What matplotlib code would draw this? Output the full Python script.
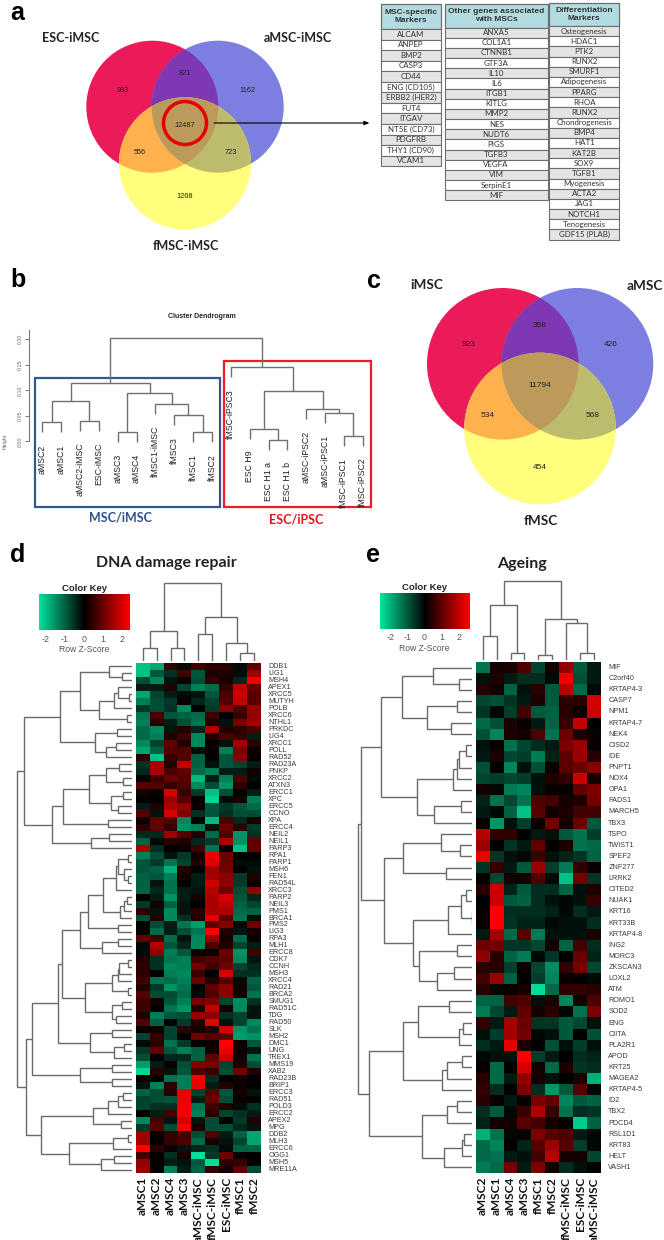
import numpy as np
import matplotlib
matplotlib.use("Agg")
import matplotlib.pyplot as plt
from matplotlib.colors import LinearSegmentedColormap
from matplotlib.patches import Circle, Polygon, Rectangle

W, H = 664, 1240
SANS = ["Liberation Sans", "DejaVu Sans"]
HUM = ["Lato", "DejaVu Sans"]

# ---------- data ----------
VENN_A = [993, 821, 1162, 12487, 556, 723, 1268]
VENN_C = [923, 398, 426, 11794, 534, 568, 454]
TABLE1_HEAD = "MSC-specific\nMarkers"
TABLE1 = ["ALCAM", "ANPEP", "BMP2", "CASP3", "CD44", "ENG (CD105)", "ERBB2 (HER2)", "FUT4", "ITGAV",
          "NT5E (CD73)", "PDGFRB", "THY1 (CD90)", "VCAM1"]
TABLE2_HEAD = "Other genes associated\nwith MSCs"
TABLE2 = ["ANXA5", "COL1A1", "CTNNB1", "GTF3A", "IL10", "IL6", "ITGB1", "KITLG", "MMP2", "NES", "NUDT6",
          "PIGS", "TGFB3", "VEGFA", "VIM", "SerpinE1", "MIF"]
TABLE3_HEAD = "Differentiation\nMarkers"
TABLE3 = ["Osteogenesis", "HDAC1", "PTK2", "RUNX2", "SMURF1", "Adipogenesis", "PPARG", "RHOA", "RUNX2",
          "Chondrogenesis", "BMP4", "HAT1", "KAT2B", "SOX9", "TGFB1", "Myogenesis", "ACTA2", "JAG1",
          "NOTCH1", "Tenogenesis", "GDF15 (PLAB)"]

B_LABELS = ["aMSC2", "aMSC1", "aMSC2-iMSC", "ESC-iMSC", "aMSC3", "aMSC4", "fMSC1-iMSC", "fMSC3", "fMSC1",
            "fMSC2", "fMSC-iPSC3", "ESC H9", "ESC H1 a", "ESC H1 b", "aMSC-iPSC2", "aMSC-iPSC1",
            "fMSC-iPSC1", "fMSC-iPSC2"]
B_TREE = (0.202,
          (0.1137,
           (0.080, (0.037, 0, 1), (0.0405, 2, 3)),
           (0.095, (0.019, 4, 5), (0.074, 6, (0.051, 7, (0.018, 8, 9))))),
          (0.146, 10,
           (0.098, (0.025, 11, (0.002, 12, 13)),
            (0.063, 14, (0.055, 15, (0.011, 16, 17))))))
B_YTICKS = [0.00, 0.05, 0.10, 0.15, 0.20]

D_COLS = ["aMSC1", "aMSC2", "aMSC4", "aMSC3", "aMSC-iMSC", "fMSC-iMSC", "ESC-iMSC", "fMSC1", "fMSC2"]
D_GENES = ["DDB1", "LIG1", "MSH4", "APEX1", "XRCC5", "MUTYH", "POLB", "XRCC6", "NTHL1", "PRKDC", "LIG4", "XRCC1",
           "POLL", "RAD52", "RAD23A", "PNKP", "XRCC2", "ATXN3", "ERCC1", "XPC", "ERCC5", "CCNO", "XPA", "ERCC4",
           "NEIL2", "NEIL1", "PARP3", "RPA1", "PARP1", "MSH6", "FEN1", "RAD54L", "XRCC3", "PARP2", "NEIL3", "PMS1",
           "BRCA1", "PMS2", "LIG3", "RPA3", "MLH1", "ERCC8", "CDK7", "CCNH", "MSH3", "XRCC4", "RAD21", "BRCA2",
           "SMUG1", "RAD51C", "TDG", "RAD50", "SLK", "MSH2", "DMC1", "UNG", "TREX1", "MMS19", "XAB2", "RAD23B",
           "BRIP1", "ERCC3", "RAD51", "POLD3", "ERCC2", "APEX2", "MPG", "DDB2", "MLH3", "ERCC6", "OGG1", "MSH5",
           "MRE11A"]
D_Z = [
 [-2,-1.7,.5,-.1,.6,.4,.4,-.1,.9],[-2,-.9,-.5,.6,-.9,.3,.3,-.1,1.5],[-.8,-1.4,-.2,.1,-.8,.5,.2,-.4,2.3],
 [-.3,-.3,.3,-.7,-1.3,-1.1,.5,1.8,1],[-1.7,-.7,-.3,-.1,-.2,-.9,.7,1.9,.8],[-1.3,-.8,-.6,.1,-.4,-.7,.8,1.8,.8],
 [-.6,-.8,-.5,-1.4,0,-.6,1.3,.7,1.4],[-1.2,.7,-.9,-1,-1.1,.6,0,.5,1.4],[-1.3,.4,-.3,-.8,-1.2,.3,-.2,1.1,1.5],
 [-1.1,-1.4,-.2,.3,-.4,1.6,.3,.4,.7],[-1.1,-1.3,.3,.6,-1.4,.3,.7,.5,-.3],[-1.4,-.7,.9,.3,-1.4,.1,-.2,1.5,.4],
 [-1.7,-1,.8,.8,-.1,.1,-1.3,1.2,.1],[.4,-2,.5,.8,-1,0,-.9,1.3,.1],[-.5,1.6,.3,1.8,-1,-.2,-.9,-.7,-.3],
 [-.4,1.6,.7,.9,-1.1,-1.3,-.3,-.3,.2],[0,.6,1,.8,-1.9,-.3,-1.3,.7,-.1],[.8,.8,.5,.7,-1.4,-.8,-1.5,.4,0],
 [.2,.1,2,.5,-.6,-2,-.8,0,-.3],[0,0,1.5,.8,0,-2.2,-.1,.2,-1.3],[-.3,.3,1.6,1.4,.1,-.9,-.6,-.9,-1.1],
 [.8,-.2,2,1.2,-.5,-.9,-.5,-.8,-.8],[.2,.9,.8,-1.4,0,-1.9,.7,-.4,.2],[.4,.9,.5,-1.5,-1.3,-.2,1,.4,-.6],
 [-.4,-.4,1.5,.8,.3,-1.1,.8,-1.5,-.5],[-1,-.1,.4,.3,-.4,-.6,1.6,-1.5,.9],[1.6,-.5,0,.1,.6,-1.2,0,-2,.9],
 [-1.3,-.8,-.2,-.6,.2,2.2,1,0,0],[-.9,-.6,-1.2,-.7,.3,2.1,1,-.1,-.1],[-.9,-1,-1.8,.3,0,1.5,1.1,0,-.2],
 [-1,-.9,-1.3,.2,-.3,1.5,1.3,-.6,.3],[-1,-.2,-1.2,0,-.3,1.9,1.3,-.6,.1],[-1,-.4,-1.2,-.3,-.2,1.7,1,-.8,1.4],
 [0,-.3,-1.5,-.3,.2,1.6,2,-.9,-.4],[-.6,.2,-1,-.2,0,1.6,1.8,-1,-.7],[.4,-.2,-1.4,-.2,.4,1.6,1.6,-1.1,-1],
 [-.8,.3,-1.4,-.5,.3,2.1,.8,-1.2,-.1],[0,-.8,-.3,-1.2,-1.6,.9,1.2,-.1,1],[.1,-1.1,-.3,-.8,-1.2,2.4,.3,-.2,.2],
 [.9,.6,-1.1,-.2,-1.4,1.4,.2,-1.1,.1],[-.1,1.7,-.9,-.4,-1.4,.7,.3,-.7,-.3],[-.1,1.3,-1.3,-.9,.1,.1,1,-1.5,.6],
 [.3,-.5,-1.2,-1.3,.6,.8,.9,-1.4,-.2],[.4,-.5,-1.4,-1.3,1.1,.6,1,-.7,-.4],[.4,0,-1.3,-1.4,.5,0,2,-.5,-.5],
 [.6,-1.2,-1.1,-1.3,1,.3,.8,-.1,-1],[.3,-.6,-1.5,-1.2,0,.9,1.3,.2,-.9],[.8,-.8,-.8,-1.1,-.1,.8,1.3,.2,-1.2],
 [.6,.2,-.9,-1.3,1.1,1.2,-.7,-1.4,-.5],[.6,0,-1.2,-1.5,.3,1.8,.2,-1.4,-.2],[.3,-1.3,-.9,-.8,1.4,1.3,-.5,-.7,-.2],
 [.8,-1,0,-.6,.3,2.1,-.2,-.7,-1.4],[0,.1,-.7,.4,.2,.3,2,-1.5,-1.2],[-.7,.5,-.7,0,1,.8,.9,-1.6,-1.5],
 [-.1,.4,-1.2,-.6,0,.1,2.4,.1,-.9],[-.6,.9,-.9,-1.3,-1,.2,2.2,.1,-.2],[-.8,0,-.4,-.4,-1,.9,1.9,.2,-1.2],
 [-1.6,-.3,.1,-.8,1.2,1.1,-.7,.3,-.8],[-2.2,.4,-.2,-.9,.7,.5,-.8,1,.3],[.1,0,-1.2,-1.3,2.3,-.5,0,.1,0],
 [-.2,-1.3,.4,-1.3,2.2,-.3,.3,.1,0],[-1,-.8,.4,2.2,-.7,.8,-.9,.2,-.2],[-.7,-.8,-.9,2.2,-.3,1,-.8,.1,0],
 [-.7,-.5,-.5,2.3,-1.2,.6,.3,-.1,-.5],[0,-.3,.6,2.3,-1.3,.4,-.7,-.5,-.3],[-1.4,.7,-.2,2,-.2,-.8,0,-.6,.3],
 [-.6,.8,-.8,2.3,.2,-.8,-.8,-.4,-.2],[1.5,0,.5,.6,-.8,.8,-.3,-1,-1.7],[1.5,0,.5,.7,-1.1,.2,-.2,-.7,-1.7],
 [2.4,.4,.1,-.2,-.4,-.5,-.1,-1,-1],[.6,0,-.5,.2,-2.3,-.6,1,.1,0],[1.4,0,-.3,-.2,-.9,-2.3,.4,.5,0],
 [1.4,0,-1.3,-.3,-1,.5,.2,.9,-.8]]
D_COL_TREE = (233, (90, (40, 0, 1), (38, 2, 3)),
              (131, (80, 4, 5), (53, 6, (23, 7, 8))))
D_ROW_TREE = (345,
  (324,
   (217,
    (156, (69, 0, (32, 1, 2)), (100, (55, (42, 3, (9, 4, 5)), 6), (17, 7, 8))),
    (112, (47, 9, 10), (80, (49, 11, 12), 13))),
   (242,
    (207, (130, (80, (40, 14, 15), (27, 16, 17)), (64, (27, 18, 19), (42, 20, 21))), (72, 22, 23)),
    (125, (69, 24, 25), 26))),
  (319,
   (302,
    (224,
     (211,
      (156,
       (134, (87, (50, (42, (12, 27, 28), (24, 29, (12, 30, 31))), 32), (37, (25, (15, 33, 34), 35), 36)), (42, 37, 38)),
       (90, (42, 39, 40), 41)),
      (143, (60, (44, (39, (12, 42, 43), 44), 45), (14, 46, 47)), (60, (30, 48, 49), (50, 50, 51)))),
     (128, (62, 52, 53), (54, (24, 54, 55), 56))),
    (158, (62, 57, 58), (62, 59, 60))),
   (273,
    (117, (74, (42, (29, 61, 62), 63), 64), (35, 65, 66)),
    (189, (59, (12, 67, 68), 69), (95, (54, 70, 71), 72)))))

E_COLS = ["aMSC2", "aMSC1", "aMSC4", "aMSC3", "fMSC1", "fMSC2", "fMSC-iMSC", "ESC-iMSC", "aMSC-iMSC"]
E_GENES = ["MIF", "C2orf40", "KRTAP4-3", "CASP7", "NPM1", "KRTAP4-7", "NEK4", "CISD2", "IDE", "PNPT1", "NOX4", "OPA1",
           "FADS1", "MARCH5", "TBX3", "TSPO", "TWIST1", "SPEF2", "ZNF277", "LRRK2", "CITED2", "NUAK1", "KRT16", "KRT33B",
           "KRTAP4-8", "ING2", "MORC3", "ZKSCAN3", "LOXL2", "ATM", "ROMO1", "SOD2", "ENG", "CIITA", "PLA2R1", "APOD",
           "KRT25", "MAGEA2", "KRTAP4-5", "ID2", "TBX2", "PDCD4", "RSL1D1", "KRT83", "HELT", "VASH1"]
E_Z = [
 [-1.3,.2,.3,.8,-.8,.2,1.5,-1,-.3],[-.2,.3,-.3,-.5,-.5,-.1,2.5,-.9,-.3],[.4,.2,-1.1,-.2,.4,-1,1.9,-1.2,-.1],
 [-.8,-.9,-.6,-.3,.3,-1,.5,.4,2.2],[-.6,-.1,-.7,.7,-1,-1.1,.4,.1,2.1],[-1.2,-.9,.3,.1,-.3,-1.1,.6,2,0],
 [-.9,-1.5,.3,.2,.8,-1.3,1.1,.3,.1],[-.2,.1,-1.3,-.8,-.5,-.3,1.3,1.6,.1],[-.3,.3,-.8,-.7,-1.4,-.4,1,1.6,.4],
 [-.9,0,-1.5,-.2,-.9,.1,.9,1.1,1.4],[-.8,-.7,-.8,-.7,-.2,.3,.5,2.1,.2],[.2,-.1,-1.4,-1.5,-.2,.1,.1,1,1.3],
 [-.4,-1.3,-.8,-1.3,.8,.7,.2,.3,1.2],[-.3,-.1,-1.1,-2.2,.9,.2,.3,.7,.7],[.1,-1.7,-.2,-.7,.1,1.2,.2,1.1,-1],
 [1.9,.5,.5,0,-.3,-.2,-1,-1.3,-.7],[1.6,0,-.6,-.3,1,0,.3,-1.3,-1.2],[2.4,-.6,-.2,-.1,.6,-.2,-.4,-.6,-1.1],
 [-.6,.5,-.3,-1,1.6,-.7,-1.4,.5,.1],[0,-.8,.2,.2,.8,-.1,-2.2,1.2,-.6],[.4,2.1,-.4,-1,-.5,-.5,-1.1,-.2,.3],
 [0,2.1,-1,-1.1,-.5,-.2,-.1,-.2,.6],[.1,2.6,-.5,-.5,-.5,-.4,-.1,-.5,-.3],[.1,2.6,-.6,-.4,-.4,-.1,-.2,-.2,-.5],
 [-.3,1.7,-1.2,.9,-1.4,-.2,-.2,-.2,.3],[1.1,1.2,-.6,-.6,-.8,.2,-1.1,.7,-.5],[1.5,.4,-1.1,-1.4,-.1,-.6,0,1.1,-.4],
 [.4,.4,-.7,.1,-.8,-1.6,.5,1.2,-.8],[.7,1.6,-1.1,0,-.7,-1.5,.1,0,-.1],[.4,-.1,.1,.2,-2.5,-1.2,.5,.5,.4],
 [-1.1,-1.1,.7,.8,-.2,.3,-1.5,.2,.8],[-1.4,-.8,-.3,1,.2,.4,-.1,-1.3,1.3],[.5,-.3,1.7,1.1,-.6,-.6,-1,-.8,-.2],
 [-.2,-.7,1.7,1.2,-.1,-.2,-1,0,-.9],[-.5,-.3,2.4,.3,0,-.9,-.2,-.7,-.2],[-.1,-.2,-.2,2.6,-.7,-.3,0,-.5,-.4],
 [.1,-1.2,0,2.2,.2,-1.2,.3,-.6,-.5],[.4,-1.2,-.3,1.5,.2,-.2,0,.3,-2],[.5,-.5,0,1.3,-.5,-1.7,-1,.9,-.1],
 [.4,.1,-.3,.1,1.3,1,-1.5,-1,-1.1],[-.5,-1,-.1,.6,1.8,.6,-1.3,-.5,-.6],[-.4,.2,.2,.9,.7,.2,.1,-2.3,-1.1],
 [-2,-1.3,-.1,.1,1.3,.9,.8,-.3,-.1],[-1.2,-1.5,0,-.4,.9,1.6,.9,-.7,-.1],[-1.2,-1.3,-.3,-.2,.7,1.9,.2,.2,-.8],
 [-1.4,-1.2,1.2,-.3,1.3,.2,-.5,-.2,0]]
E_COL_TREE = (236, (166, (71, 0, 1), (20, 2, 3)),
              (124, (14, 4, 5), (111, 6, (22, 7, 8))))
E_ROW_TREE = (344,
  (335,
   (275,
    (212, (117, 0, (39, 1, 2)), (137, (46, 3, 4), (64, 5, 6))),
    (167, (57, (45, (39, (19, 7, 8), 9), 10), 11), (114, (34, 12, 13), 14))),
   (265,
    (207, (95, 15, (37, 16, 17)), (79, 18, 19)),
    (179, (74, (35, (19, 20, 21), (2, 22, 23)), 24), (159, (46, 25, 26), (105, (54, 27, 28), 29))))),
  (309,
   (209, (164, (70, 30, 31), (39, (29, 32, 33), 34)), (90, (75, (32, 35, 36), 37), 38)),
   (151, (77, (46, 39, 40), 41), (85, (32, (25, 42, 43), 44), 45))))

# ---------- helpers ----------
plt.rcParams["font.family"] = SANS
fig = plt.figure(figsize=(W / 100, H / 100), dpi=100, facecolor="white")


def px_axes(x0, y0, x1, y1, **kw):
    ax = fig.add_axes([x0 / W, 1 - y1 / H, (x1 - x0) / W, (y1 - y0) / H], **kw)
    ax.patch.set_alpha(0)
    return ax


page = px_axes(0, 0, W, H)
page.set_xlim(0, W)
page.set_ylim(H, 0)
page.axis("off")

LC = "#6a6a6a"


def draw_tree(ax, node, vertical=True, hang=None, color=LC, lw=1.0):
    if isinstance(node, int):
        return float(node), None
    h, a, b = node
    pa, ha = draw_tree(ax, a, vertical, hang, color, lw)
    pb, hb = draw_tree(ax, b, vertical, hang, color, lw)
    ha = ha if ha is not None else (h - hang if hang is not None else 0)
    hb = hb if hb is not None else (h - hang if hang is not None else 0)
    xs, ys = [pa, pa, pb, pb], [ha, h, h, hb]
    if vertical:
        ax.plot(xs, ys, color=color, lw=lw, solid_joinstyle="miter", solid_capstyle="butt")
    else:
        ax.plot(ys, xs, color=color, lw=lw, solid_joinstyle="miter", solid_capstyle="butt")
    return (pa + pb) / 2, h


def leaf_ends(node, hang, out):
    if isinstance(node, int):
        return
    h, a, b = node
    for c in (a, b):
        if isinstance(c, int):
            out[c] = h - hang
        else:
            leaf_ends(c, hang, out)


def venn(c_red, c_blue, c_yel, r, counts, num_pos, fs):
    red = Circle(c_red, r, fc="#EB1B5A", ec="none")
    blue = Circle(c_blue, r, fc="#7D7FE0", ec="none")
    yel = Circle(c_yel, r, fc="#FFFF7D", ec="none")
    for p in (red, blue, yel):
        page.add_patch(p)
    for centre, col, clip in ((c_blue, "#7E38B4", red), (c_yel, "#FFB14E", red), (c_yel, "#BCBC6C", blue)):
        p = Circle(centre, r, fc=col, ec="none")
        page.add_patch(p)
        p.set_clip_path(clip)
    d = c_blue[0] - c_red[0]
    phi = np.arccos(d / (2 * r))
    t = np.linspace(-phi, phi, 120)
    arc1 = np.c_[c_red[0] + r * np.cos(t), c_red[1] + r * np.sin(t)]
    t2 = np.linspace(np.pi - phi, np.pi + phi, 120)
    arc2 = np.c_[c_blue[0] + r * np.cos(t2), c_blue[1] + r * np.sin(t2)]
    lens = Polygon(np.r_[arc1, arc2], closed=True, fc="#BB9A5C", ec="none")
    page.add_patch(lens)
    lens.set_clip_path(yel)
    for n, (x, y) in zip(counts, num_pos):
        page.text(x, y, str(n), ha="center", va="center", fontsize=fs, color="#222222", family=SANS)


def table(x0, x1, y_head0, y_head1, pitch, head, rows):
    page.add_patch(Rectangle((x0, y_head0), x1 - x0, y_head1 - y_head0, fc="#B2DCE2", ec="#6e6e6e", lw=0.9))
    page.text((x0 + x1) / 2, (y_head0 + y_head1) / 2, head, ha="center", va="center", fontsize=6.0,
              fontweight="bold", color="#333333", linespacing=1.2, family=SANS)
    for i, name in enumerate(rows):
        y = y_head1 + i * pitch
        page.add_patch(Rectangle((x0, y), x1 - x0, pitch, fc="#E4E4E4" if i % 2 == 0 else "white", ec="#6e6e6e", lw=0.8))
        page.text((x0 + x1) / 2, y + pitch / 2, name, ha="center", va="center", fontsize=5.7, color="#333333", family=HUM)


CMAP = LinearSegmentedColormap.from_list("gbr", ["#00E8A0", "#000000", "#FF0000"])


def heat_panel(z, genes, cols, col_tree, row_tree, hx0, hx1, hy0, hy1, dend_x0, vmax, key_x0, key_x1, key_y0,
               key_y1, key_ticks, key_tick_y, key_lab_y, key_title_y, key_cx):
    z = np.array(z)
    n = len(genes)
    ax = px_axes(hx0, hy0, hx1, hy1)
    ax.pcolormesh(np.arange(10), np.arange(n + 1), z, cmap=CMAP, vmin=-vmax, vmax=vmax)
    ax.set_xlim(0, 9)
    ax.set_ylim(n, 0)
    ax.axis("off")
    pitch = (hy1 - hy0) / n
    cw = (hx1 - hx0) / 9
    for i, g in enumerate(genes):
        page.text(hx1 + 7.3, hy0 + (i + .5) * pitch, g, ha="left", va="center", fontsize=5.2, color="#3a3a3a")
    for j, c in enumerate(cols):
        page.text(hx0 + (j + .5) * cw, 1177, c, ha="center", va="top", rotation=90, fontsize=8.6, color="#111111",
                  family=HUM, fontweight="bold")
    # column dendrogram
    top = hy0 - 82
    axc = px_axes(hx0, top, hx1, hy0 - 2)
    draw_tree(axc, col_tree, True)
    axc.set_xlim(-.5, 8.5)
    axc.set_ylim(0, 240)
    axc.axis("off")
    # row dendrogram
    axr = px_axes(dend_x0, hy0, dend_x0 + 397 / 3, hy1)
    draw_tree(axr, row_tree, False)
    axr.set_xlim(397, 0)
    axr.set_ylim(n - .5, -.5)
    axr.axis("off")
    # colour key
    axk = px_axes(key_x0, key_y0, key_x1, key_y1)
    scale = (key_ticks[-1][1] - key_ticks[0][1]) / (key_ticks[-1][0] - key_ticks[0][0])
    v0 = key_ticks[0][0] + (key_x0 - key_ticks[0][1]) / scale
    v1 = key_ticks[0][0] + (key_x1 - key_ticks[0][1]) / scale
    axk.imshow(np.linspace(v0, v1, 256)[None, :], aspect="auto", cmap=CMAP, vmin=-vmax, vmax=vmax,
               extent=[v0, v1, 0, 1])
    axk.axis("off")
    for v, x in key_ticks:
        page.text(x, key_tick_y, str(v), ha="center", va="center", fontsize=6.4, color="#555555")
    page.text(key_cx, key_lab_y, "Row Z-Score", ha="center", va="center", fontsize=6.2, color="#555555")
    page.text(key_cx, key_title_y, "Color Key", ha="center", va="center", fontsize=6.8, color="#222222",
              fontweight="bold")


# ---------- panel letters ----------
for s, x, y in (("a", 17, 13), ("b", 18, 280), ("c", 374, 281), ("d", 18, 555), ("e", 373, 555)):
    page.text(x, y, s, ha="center", va="center", fontsize=18, fontweight="bold", color="black")

# ---------- panel a ----------
venn((152.3, 106.7), (217.7, 106.7), (185, 163.3), 66, VENN_A,
     [(123, 90), (184.7, 73.3), (247, 90), (185, 125.7), (139.3, 152), (230.3, 152), (185, 197)], 5.3)
page.add_patch(Circle((185, 123), 21.5, fc="none", ec="#E60000", lw=2.5))
page.annotate("", xy=(369.5, 123), xytext=(214, 123),
              arrowprops=dict(arrowstyle="-|>,head_width=0.12,head_length=0.3", color="black", lw=0.8,
                              shrinkA=0, shrinkB=0))
for s, x, y in (("ESC-iMSC", 70.7, 37.5), ("aMSC-iMSC", 297.7, 37.5), ("fMSC-iMSC", 185.7, 246)):
    page.text(x, y, s, ha="center", va="center", fontsize=9.0, family=HUM, fontweight="bold", color="#222222")

table(380.7, 441, 4, 29, 10.55, TABLE1_HEAD, TABLE1)
table(444.7, 547.7, 3.5, 27.5, 10.17, TABLE2_HEAD, TABLE2)
table(549, 619.3, 2.5, 26, 10.17, TABLE3_HEAD, TABLE3)

# ---------- panel b ----------
LEAF0, LPITCH = 42.3, 18.85
PPU = 510.0
Y0 = 441.3
axb = px_axes(29.3, 320, 375, 510)
axb.set_xlim(-(LEAF0 - 29.3) / LPITCH, (375 - LEAF0) / LPITCH)
axb.set_ylim((Y0 - 510) / PPU, (Y0 - 320) / PPU)
HANG = 0.0196
draw_tree(axb, B_TREE, True, hang=HANG, color="#707070", lw=1.0)
ends = {}
leaf_ends(B_TREE, HANG, ends)
for i, s in enumerate(B_LABELS):
    axb.text(i, ends[i] - 0.0235, s, rotation=90, ha="center", va="top", fontsize=6.3, color="#222222")
for sp in ("top", "right", "bottom"):
    axb.spines[sp].set_visible(False)
axb.spines["left"].set_bounds(0, 0.218)
axb.spines["left"].set_color("#777777")
axb.spines["left"].set_linewidth(0.8)
axb.set_xticks([])
axb.set_yticks(B_YTICKS)
axb.set_yticklabels([f"{v:.2f}" for v in B_YTICKS], rotation=90, va="center", fontsize=3.8, color="#666666")
axb.tick_params(axis="y", length=3, width=0.7, color="#777777", pad=2)
page.text(202, 316, "Cluster Dendrogram", ha="center", va="center", fontsize=5.0, fontweight="bold", color="#222222")
page.text(5, 441, "Height", ha="center", va="center", rotation=90, fontsize=3.8, color="#666666")
page.add_patch(Rectangle((35, 378), 185, 129, fc="none", ec="#2F5A8F", lw=1.6))
page.add_patch(Rectangle((223.5, 361), 147.5, 146, fc="none", ec="#EE1C25", lw=1.6))
page.text(120, 517, "MSC/iMSC", ha="center", va="center", fontsize=9.0, family=HUM, fontweight="bold", color="#2F4F8F")
page.text(296, 519, "ESC/iPSC", ha="center", va="center", fontsize=9.0, family=HUM, fontweight="bold", color="#E8141C")

# ---------- panel c ----------
venn((502.8, 363.8), (577.5, 363.8), (540, 428.5), 75.8, VENN_C,
     [(469, 345), (540, 325.3), (611, 345), (540, 385.7), (487.7, 415.7), (592.3, 415.7), (540, 467.3)], 6.0)
for s, x, y in (("iMSC", 427, 285), ("aMSC", 645, 286), ("fMSC", 540.7, 521)):
    page.text(x, y, s, ha="center", va="center", fontsize=9.8, family=HUM, fontweight="bold", color="#222222")

# ---------- panels d, e ----------
page.text(166.7, 563.3, "DNA damage repair", ha="center", va="center", fontsize=11.5, family=HUM, fontweight="bold", color="#222222")
page.text(521.7, 564, "Ageing", ha="center", va="center", fontsize=11.5, family=HUM, fontweight="bold", color="#222222")
heat_panel(D_Z, D_GENES, D_COLS, D_COL_TREE, D_ROW_TREE, 135.7, 261, 663, 1173, 0, 2.4, 39.3, 130, 594, 630,
           [(-2, 46), (-1, 65), (0, 84), (1, 103.3), (2, 122.3)], 639.3, 649.3, 588.3, 84)
heat_panel(E_Z, E_GENES, E_COLS, E_COL_TREE, E_ROW_TREE, 475.7, 601, 662, 1173, 340, 2.65, 380, 470, 593, 629,
           [(-2, 390.7), (-1, 407.7), (0, 424.3), (1, 441.7), (2, 459)], 637.7, 648.3, 587.3, 424.3)

fig.savefig("out.png", dpi=100, facecolor="white")
